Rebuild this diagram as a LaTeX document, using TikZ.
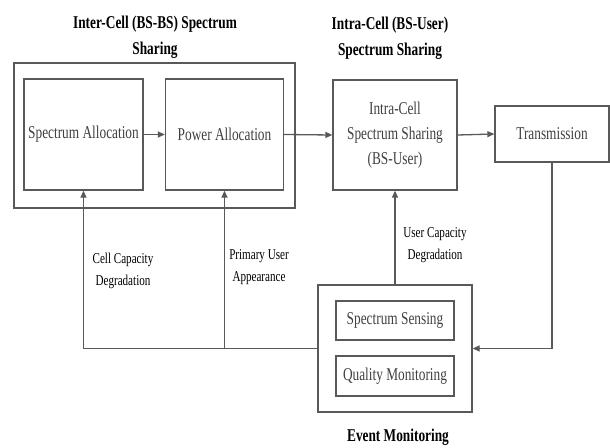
\documentclass[tikz,border=0pt]{standalone}
\usepackage{fontspec}
\setmainfont{Liberation Serif}
\newfontfamily\condfont[FakeStretch=0.74]{Liberation Serif}
\usetikzlibrary{arrows.meta}
\begin{document}
\begin{tikzpicture}[x=1pt,y=-1pt,
  line/.style={draw=black!65, line width=1.3pt},
  box/.style={line, rectangle, inner sep=0pt, align=center, text=black!75,
              font=\condfont\fontsize{18}{25}\selectfont},
  flow/.style={line, -{Triangle[length=7pt,width=6pt]}},
  lbl/.style={align=center, text=black, font=\condfont\fontsize{15}{22}\selectfont},
  ttl/.style={align=center, font=\condfont\bfseries\fontsize{18}{26}\selectfont}]
\useasboundingbox (0,0) rectangle (610,447);
\fill[white] (0,0) rectangle (610,447);

% inter-cell group
\node[box, minimum width=281pt, minimum height=145pt] (inter) at (154.5,135.5) {};
\node[box, minimum width=119pt, minimum height=111pt] (sa) at (83.5,134.5) {Spectrum Allocation};
\node[box, minimum width=118pt, minimum height=111pt] (pa) at (224.5,134.5) {Power Allocation};
\node[ttl] (t1) at (155,37) {Inter-Cell (BS-BS) Spectrum\\Sharing};

% intra-cell and transmission
\node[box, minimum width=124pt, minimum height=110pt] (intra) at (395,135)
  {Intra-Cell\\Spectrum Sharing\\(BS-User)};
\node[ttl] (t2) at (390,38) {Intra-Cell (BS-User)\\Spectrum Sharing};
\node[box, minimum width=114pt, minimum height=56pt] (trans) at (552,134) {Transmission};

% event monitoring group
\node[box, minimum width=154pt, minimum height=127pt] (ev) at (395,348.5) {};
\node[box, minimum width=118pt, minimum height=39pt] (ss) at (395,320.5) {Spectrum Sensing};
\node[box, minimum width=118pt, minimum height=40pt] (qm) at (395,376) {Quality Monitoring};
\node[ttl] (t3) at (398,437) {Event Monitoring};

% forward chain
\draw[flow] (sa.east) -- (pa.west);
\draw[flow] (pa.east) -- (intra.west);
\draw[flow] (intra.east) -- (trans.west);
\draw[flow] (trans.south) |- (ev.east);

% feedback from monitoring
\coordinate (j) at (pa.south |- ev.west);
\draw[flow] (ev.west) -| (sa.south);
\draw[flow] (j) -- (pa.south);
\draw[flow] (ev.north) -- (intra.south);

% feedback labels
\node[lbl] (l1) at (123,271) {Cell Capacity\\Degradation};
\node[lbl] (l2) at (259,267) {Primary User\\Appearance};
\node[lbl] (l3) at (435,245) {User Capacity\\Degradation};
\end{tikzpicture}
\end{document}
